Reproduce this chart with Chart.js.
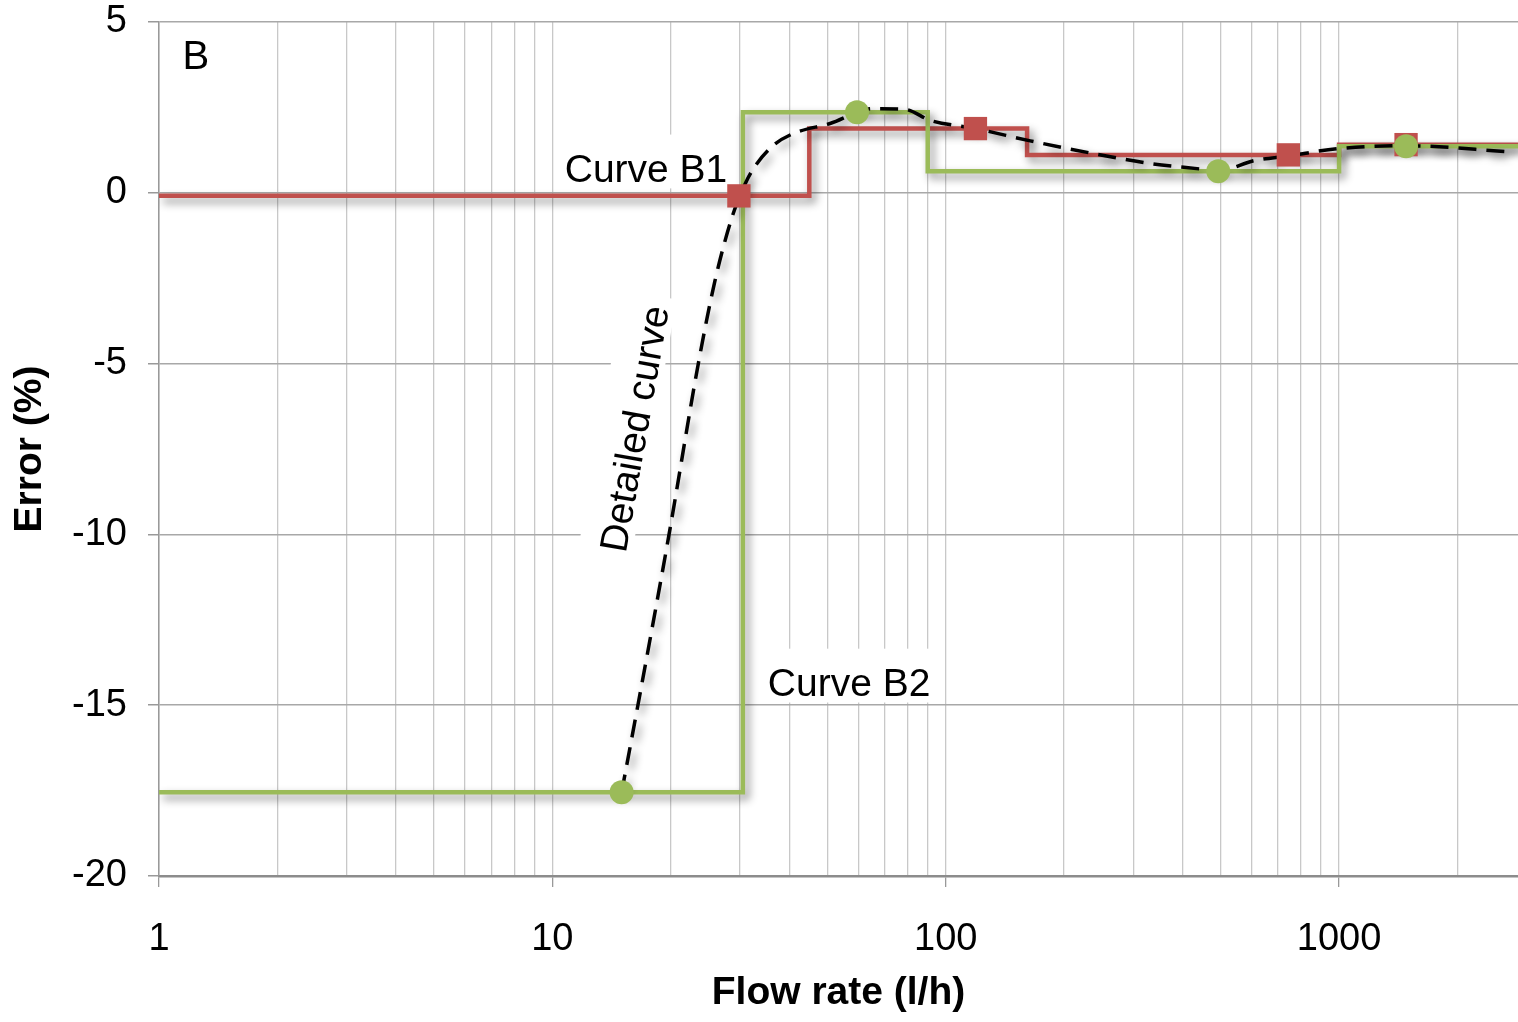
<!DOCTYPE html>
<html>
<head>
<meta charset="utf-8">
<title>Error vs flow rate</title>
<script src="https://cdn.jsdelivr.net/npm/chart.js@4.4.1/dist/chart.umd.min.js"></script>
<style>
  html, body { margin: 0; padding: 0; background: #fff; overflow: hidden; }
  canvas { display: block; }
</style>
</head>
<body>
<canvas id="chart" width="1518" height="1022"></canvas>
<script>
// Step curve B1 (red): value holds until the next x
const b1StepX = [1, 45, 161, 1000, 2850];
const b1StepY = [-0.09, 1.88, 1.11, 1.41, 1.41];
// Step curve B2 (green)
const b2StepX = [1, 30.5, 90, 1000, 2850];
const b2StepY = [-17.55, 2.36, 0.63, 1.36, 1.36];

// Measurement points on each step curve
const b1PointX = [29.8, 119, 743, 1480];
const b1PointY = [-0.09, 1.88, 1.11, 1.41];
const b2PointX = [15, 59.5, 493, 1480];
const b2PointY = [-17.55, 2.36, 0.63, 1.36];

// Detailed (smooth) error curve
const detailX = [15, 16.5, 19.8, 23.5, 25.9, 28.6, 30.9, 32.4, 36.4, 40.9, 50.8, 65, 78, 92, 119, 164, 232, 335, 441, 493, 608, 743, 990, 1480, 2720];
const detailY = [-17.55, -15, -10, -5, -2.58, -0.73, 0.26, 0.7, 1.38, 1.73, 2.03, 2.46, 2.45, 2.11, 1.88, 1.52, 1.17, 0.85, 0.7, 0.64, 0.94, 1.08, 1.29, 1.38, 1.2];

// Axis ticks
const xGridValues = [1, 2, 3, 4, 5, 6, 7, 8, 9, 10, 20, 30, 40, 50, 60, 70, 80, 90, 100, 200, 300, 400, 500, 600, 700, 800, 900, 1000, 2000];
const xTickLabels = ['1', '10', '100', '1000'];
const yTickValues = [-20, -15, -10, -5, 0, 5];

const FONT = '"Liberation Sans", Arial, sans-serif';
const RED = '#c0504d';
const GREEN = '#9bbb59';

// Text notes placed in data coordinates
const notes = [
    { text: 'B', x: 1.24, y: 3.96, angle: 0, size: 40, box: false },
    { text: 'Curve B1', x: 17.3, y: 0.62, angle: 0, size: 39, box: true },
    { text: 'Curve B2', x: 56.8, y: -14.43, angle: 0, size: 39, box: true },
    { text: 'Detailed curve', x: 16.4, y: -6.92, angle: -80, size: 39, box: true }
];

const toPoints = (xs, ys) => xs.map((x, i) => ({ x, y: ys[i] }));

// Draws the notes on white boxes, above the grid but under the data
const notesPlugin = {
    id: 'notes',
    beforeDatasetsDraw(chart) {
        const { ctx, scales: { x, y } } = chart;
        notes.forEach(n => {
            const px = x.getPixelForValue(n.x);
            const py = y.getPixelForValue(n.y);
            ctx.save();
            ctx.translate(px, py);
            ctx.rotate(n.angle * Math.PI / 180);
            ctx.font = `${n.size}px ${FONT}`;
            const w = ctx.measureText(n.text).width;
            if (n.box) {
                ctx.fillStyle = '#fff';
                ctx.fillRect(-w / 2 - 10, -n.size * 0.95, w + 20, n.size * 1.38);
            }
            ctx.fillStyle = '#000';
            ctx.textAlign = 'center';
            ctx.textBaseline = 'middle';
            ctx.fillText(n.text, 0, 0);
            ctx.restore();
        });
    }
};

// Soft drop shadow under the curves
const shadowPlugin = {
    id: 'lineShadow',
    beforeDatasetDraw(chart, args) {
        if (!chart.data.datasets[args.index].shadow) return;
        const ctx = chart.ctx;
        ctx.save();
        ctx.shadowColor = 'rgba(0, 0, 0, 0.45)';
        ctx.shadowBlur = 9;
        ctx.shadowOffsetX = 4;
        ctx.shadowOffsetY = 5;
    },
    afterDatasetDraw(chart, args) {
        if (!chart.data.datasets[args.index].shadow) return;
        chart.ctx.restore();
    }
};

const isDecade = (v) => xTickLabels.includes(String(v));

new Chart(document.getElementById('chart'), {
    type: 'line',
    data: {
        datasets: [
            {
                label: 'Curve B2 points',
                data: toPoints(b2PointX, b2PointY),
                showLine: false,
                pointStyle: 'circle',
                pointRadius: 12,
                pointBackgroundColor: GREEN,
                pointBorderWidth: 0
            },
            {
                label: 'Curve B1 points',
                data: toPoints(b1PointX, b1PointY),
                showLine: false,
                pointStyle: 'rect',
                pointRadius: 16.5,
                pointBackgroundColor: RED,
                pointBorderWidth: 0
            },
            {
                label: 'Detailed curve',
                data: toPoints(detailX, detailY),
                borderColor: '#000',
                borderWidth: 3.5,
                borderDash: [18, 10],
                cubicInterpolationMode: 'monotone',
                pointRadius: 0,
                shadow: true
            },
            {
                label: 'Curve B2',
                data: toPoints(b2StepX, b2StepY),
                stepped: true,
                borderColor: GREEN,
                borderWidth: 4.5,
                borderJoinStyle: 'miter',
                pointRadius: 0,
                shadow: true
            },
            {
                label: 'Curve B1',
                data: toPoints(b1StepX, b1StepY),
                stepped: true,
                borderColor: RED,
                borderWidth: 4.5,
                borderJoinStyle: 'miter',
                pointRadius: 0,
                shadow: true
            }
        ]
    },
    options: {
        responsive: false,
        animation: false,
        devicePixelRatio: 1,
        layout: { autoPadding: false, padding: { top: 22, right: 0, bottom: 0, left: 0 } },
        plugins: {
            legend: { display: false },
            tooltip: { enabled: false }
        },
        scales: {
            x: {
                type: 'logarithmic',
                min: 1,
                max: 2850,
                afterBuildTicks: (scale) => {
                    scale.ticks = xGridValues.map(v => ({ value: v, major: isDecade(v) }));
                },
                afterFit: (scale) => {
                    scale.height = 146;
                    scale.paddingLeft = 0;
                    scale.paddingRight = 0;
                },
                ticks: {
                    autoSkip: false,
                    maxRotation: 0,
                    padding: 30,
                    color: '#000',
                    font: { family: FONT, size: 38 },
                    callback: (value) => isDecade(value) ? String(value) : ''
                },
                grid: {
                    color: '#c8c8c8',
                    lineWidth: 1.3,
                    tickLength: 11,
                    tickColor: (ctx) => (ctx.tick && isDecade(ctx.tick.value)) ? '#999' : 'rgba(0,0,0,0)'
                },
                border: { color: '#8c8c8c', width: 2.5 },
                title: {
                    display: true,
                    text: 'Flow rate (l/h)',
                    color: '#000',
                    font: { family: FONT, size: 39, weight: 'bold' },
                    padding: { top: 0, bottom: 5 }
                }
            },
            y: {
                min: -20,
                max: 5,
                afterBuildTicks: (scale) => {
                    scale.ticks = yTickValues.map(v => ({ value: v }));
                },
                afterFit: (scale) => {
                    scale.width = 159;
                    scale.paddingTop = 0;
                    scale.paddingBottom = 0;
                },
                ticks: {
                    padding: 21,
                    color: '#000',
                    font: { family: FONT, size: 38 }
                },
                grid: {
                    color: '#a8a8a8',
                    lineWidth: 1.5,
                    tickLength: 11,
                    tickColor: '#999'
                },
                border: { color: '#999', width: 1.5 },
                title: {
                    display: true,
                    text: 'Error (%)',
                    color: '#000',
                    font: { family: FONT, size: 39, weight: 'bold' },
                    padding: { top: 7, bottom: 0 }
                }
            }
        }
    },
    plugins: [notesPlugin, shadowPlugin]
});
</script>
</body>
</html>
